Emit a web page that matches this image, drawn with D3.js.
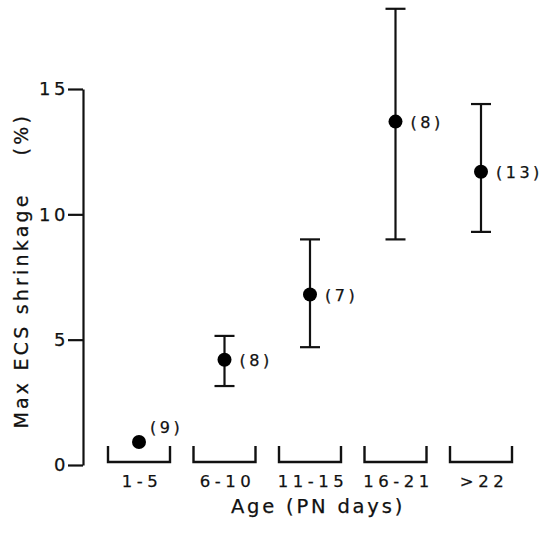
<!DOCTYPE html>
<meta charset="UTF-8">
<style>
body { margin: 0; background: #fff; }
text { font-family: "DejaVu Sans", sans-serif; fill: #111; stroke: #111; stroke-width: 0.25px; white-space: pre; }
.tick text { font-size: 18px; letter-spacing: 3.5px; font-family: "DejaVu Sans", sans-serif; }
.axis path, .axis line { stroke: #111; stroke-width: 2.2px; }
.bar { stroke: #111; stroke-width: 2.2px; }
.bracket { fill: none; stroke: #111; stroke-width: 2.4px; }
</style>
<body>
<script src="https://d3js.org/d3.v7.min.js"></script>
<script>

// age groups (PN days)
var categories = ["1-5", "6-10", "11-15", "16-21", ">22"];
var means  = [0.92, 4.2, 6.8, 13.7, 11.7];
var upper  = [null, 5.15, 9.0, 18.2, 14.4];
var lower  = [null, 3.15, 4.7, 9.0, 9.3];
var counts = ["(9)", "(8)", "(7)", "(8)", "(13)"];
var yTicks = [0, 5, 10, 15];

var width = 557, height = 535;

var svg = d3.select("body").append("svg")
    .attr("width", width)
    .attr("height", height);

var y = d3.scaleLinear().domain([0, 15]).range([465, 89]);
var x = d3.scalePoint().domain(categories).range([139, 481]);

// y axis
var yAxis = d3.axisLeft(y)
    .tickValues(yTicks)
    .tickSize(15)
    .tickSizeOuter(0)
    .tickPadding(-1);

svg.append("g")
    .attr("class", "axis")
    .attr("transform", "translate(83,0)")
    .call(yAxis);

svg.append("text")
    .attr("transform", "translate(28," + (y(7.75)) + ") rotate(-90)")
    .attr("text-anchor", "middle")
    .style("font-size", "19px")
    .style("letter-spacing", "3.2px")
    .text("Max ECS shrinkage    (%)");

// brackets under each age group
var bw = 31;
svg.selectAll("path.bracket")
    .data(categories)
  .enter().append("path")
    .attr("class", "bracket")
    .attr("d", function(d) {
      var cx = x(d);
      return "M " + (cx - bw) + " 446 L " + (cx - bw) + " 462 L " + (cx + bw) + " 462 L " + (cx + bw) + " 446";
    });

svg.selectAll("text.cat")
    .data(categories)
  .enter().append("text")
    .attr("class", "cat")
    .attr("x", function(d) { return x(d) + 3; })
    .attr("y", 487)
    .attr("text-anchor", "middle")
    .style("font-size", "16.5px")
    .style("letter-spacing", "4.5px")
    .text(function(d) { return d; });

svg.append("text")
    .attr("x", 318)
    .attr("y", 513)
    .attr("text-anchor", "middle")
    .style("font-size", "19.5px")
    .style("letter-spacing", "2.8px")
    .text("Age (PN days)");

// error bars
var idx = d3.range(categories.length).filter(function(i) { return upper[i] != null; });
var cap = 10;

var g = svg.selectAll("g.err")
    .data(idx)
  .enter().append("g")
    .attr("class", "err");

g.append("line")
    .attr("class", "bar")
    .attr("x1", function(i) { return x(categories[i]); })
    .attr("x2", function(i) { return x(categories[i]); })
    .attr("y1", function(i) { return y(upper[i]); })
    .attr("y2", function(i) { return y(lower[i]); });

g.append("line")
    .attr("class", "bar")
    .attr("x1", function(i) { return x(categories[i]) - cap; })
    .attr("x2", function(i) { return x(categories[i]) + cap; })
    .attr("y1", function(i) { return y(upper[i]); })
    .attr("y2", function(i) { return y(upper[i]); });

g.append("line")
    .attr("class", "bar")
    .attr("x1", function(i) { return x(categories[i]) - cap; })
    .attr("x2", function(i) { return x(categories[i]) + cap; })
    .attr("y1", function(i) { return y(lower[i]); })
    .attr("y2", function(i) { return y(lower[i]); });

// means
svg.selectAll("circle.dot")
    .data(means)
  .enter().append("circle")
    .attr("class", "dot")
    .attr("cx", function(d, i) { return x(categories[i]); })
    .attr("cy", function(d) { return y(d); })
    .attr("r", 7)
    .attr("fill", "#000");

// n labels
svg.selectAll("text.n")
    .data(counts)
  .enter().append("text")
    .attr("class", "n")
    .attr("x", function(d, i) { return x(categories[i]) + (i == 0 ? 11 : 15); })
    .attr("y", function(d, i) { return y(means[i]) + (i == 0 ? -9 : 6); })
    .style("font-size", "16px")
    .style("letter-spacing", "3.5px")
    .text(function(d) { return d; });

</script>
</body>
